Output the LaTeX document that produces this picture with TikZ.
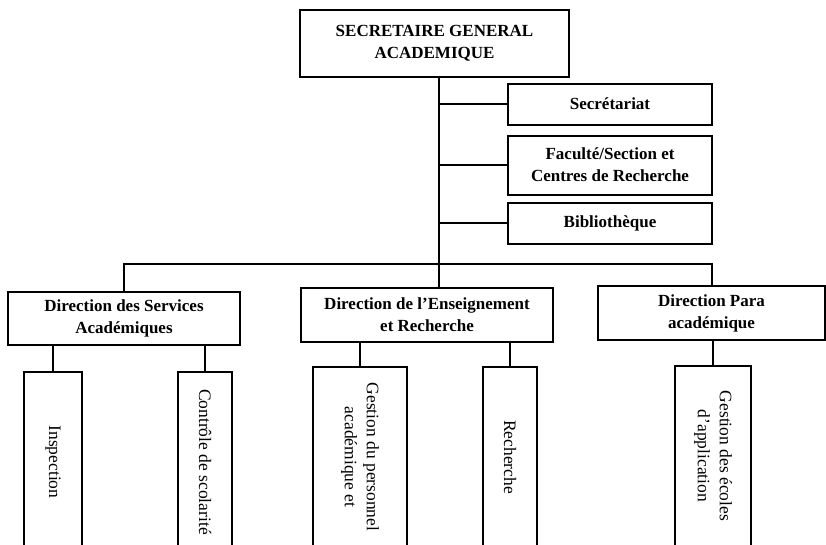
\documentclass[tikz,border=0pt]{standalone}
\usepackage{fontspec}
\setmainfont{Liberation Serif}
\begin{document}
\begin{tikzpicture}[x=1pt,y=1pt,
  line width=2pt,
  hbox/.style={draw, rectangle, inner sep=0pt, align=center,
    font=\fontsize{17}{22}\selectfont\bfseries},
  vbox/.style={draw, rectangle, inner sep=0pt, align=center, rotate=-90,
    minimum width=180, font=\fontsize{17.5}{22}\selectfont},
  link/.style={draw, line width=2pt}]
\useasboundingbox (0,0) rectangle (826,-544);
\clip (0,0) rectangle (826,-544);
% top
\node[hbox, minimum width=269, minimum height=67] (sga) at (434.5,-43.5) {SECRETAIRE GENERAL\\ACADEMIQUE};
\node[hbox, minimum width=204, minimum height=41] (sec) at (610,-104) {Secrétariat};
\node[hbox, minimum width=204, minimum height=59] (fac) at (610,-165) {Faculté/Section et\\Centres de Recherche};
\node[hbox, minimum width=204, minimum height=41] (bib) at (610,-223) {Bibliothèque};
% directions
\node[hbox, minimum width=232, minimum height=53] (dserv) at (124,-318.5) {Direction des Services\\Académiques};
\node[hbox, minimum width=252, minimum height=54] (dens) at (427,-315) {Direction de l’Enseignement\\et Recherche};
\node[hbox, minimum width=227, minimum height=54] (dpara) at (711.5,-313) {Direction Para\\académique};
% children
\node[vbox, minimum height=58] (insp) at (53,-462) {Inspection};
\node[vbox, minimum height=54] (ctrl) at (205,-462) {Contrôle de scolarité};
\node[vbox, minimum height=94] (gper) at (360,-457) {Gestion du personnel\\académique et};
\node[vbox, minimum height=54] (rech) at (510,-457) {Recherche};
\node[vbox, minimum height=76] (geco) at (713,-456) {Gestion des écoles\\d'application};
% connectors
\coordinate (trunk) at (439,-264);
\draw[link] (sga.south -| trunk) -- (dens.north -| trunk);
\draw[link] (sec.west) -- (sec.west -| trunk);
\draw[link] (fac.west) -- (fac.west -| trunk);
\draw[link] (bib.west) -- (bib.west -| trunk);
\draw[link] (dserv.north) |- (trunk) -| (dpara.north);
\draw[link] (insp.west |- dserv.south) -- (insp.west);
\draw[link] (ctrl.west |- dserv.south) -- (ctrl.west);
\draw[link] (gper.west |- dens.south) -- (gper.west);
\draw[link] (rech.west |- dens.south) -- (rech.west);
\draw[link] (geco.west |- dpara.south) -- (geco.west);
\end{tikzpicture}
\end{document}
